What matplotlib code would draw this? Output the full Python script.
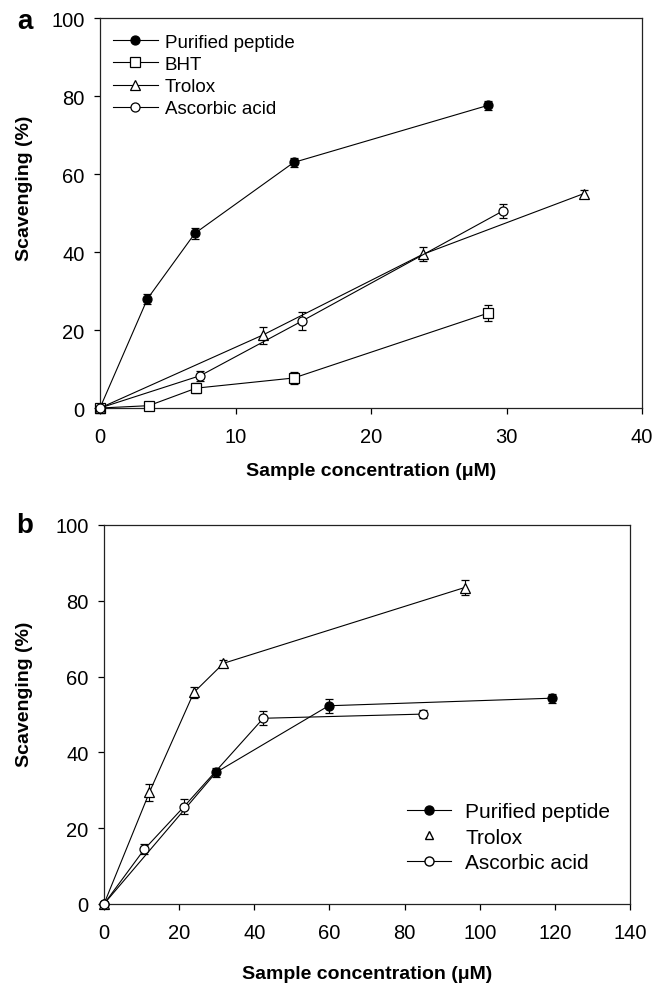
import matplotlib
matplotlib.use("Agg")
import matplotlib.pyplot as plt
from matplotlib.lines import Line2D

plt.rcParams['font.family'] = ['Liberation Sans', 'DejaVu Sans']

# ---- Panel a data ----
a_pep_x = [0, 3.5, 7.0, 14.3, 28.6]
a_pep_y = [0, 28.0, 44.8, 63.0, 77.6]
a_pep_e = [0, 1.2, 1.5, 1.2, 1.2]

a_bht_x = [0, 3.6, 7.1, 14.3, 28.6]
a_bht_y = [0, 0.6, 5.1, 7.7, 24.3]
a_bht_e = [0, 0.3, 1.2, 1.6, 2.0]

a_tro_x = [0, 12.0, 23.8, 35.7]
a_tro_y = [0, 18.7, 39.4, 55.0]
a_tro_e = [0, 2.2, 1.8, 1.0]

a_asc_x = [0, 7.4, 14.9, 29.7]
a_asc_y = [0, 8.3, 22.3, 50.5]
a_asc_e = [0, 1.3, 2.2, 1.8]

a_labels = ["Purified peptide", "BHT", "Trolox", "Ascorbic acid"]

# ---- Panel b data ----
b_pep_x = [0, 29.8, 59.8, 119.3]
b_pep_y = [0, 34.7, 52.3, 54.3]
b_pep_e = [0, 1.2, 1.8, 1.2]

b_tro_x = [0, 12.1, 23.9, 31.8, 96.0]
b_tro_y = [0, 29.5, 55.8, 63.5, 83.5]
b_tro_e = [0, 2.2, 1.5, 0.8, 2.0]

b_asc_x = [0, 10.7, 21.3, 42.4, 84.9]
b_asc_y = [0, 14.4, 25.7, 49.0, 50.1]
b_asc_e = [0, 1.3, 2.0, 1.8, 1.0]

b_labels = ["Purified peptide", "Trolox", "Ascorbic acid"]

x_ticks_a = [0, 10, 20, 30, 40]
x_ticks_b = [0, 20, 40, 60, 80, 100, 120, 140]
y_ticks = [0, 20, 40, 60, 80, 100]

fig = plt.figure(figsize=(6.71, 9.87), dpi=100)
axa = fig.add_axes([0.149, 0.5856, 0.808, 0.395])
axb = fig.add_axes([0.155, 0.0831, 0.784, 0.384])

LW = 0.8
MS = 6.5

def series(ax, x, y, e, marker, fc, label):
    ax.errorbar(x, y, yerr=e, fmt='-', marker=marker, color='black', mfc=fc,
                mec='black', ms=MS, lw=LW, elinewidth=LW, capsize=3.2,
                capthick=LW, clip_on=False, zorder=3, label=label, mew=0.9)

series(axa, a_pep_x, a_pep_y, a_pep_e, 'o', 'black', a_labels[0])
series(axa, a_bht_x, a_bht_y, a_bht_e, 's', 'white', a_labels[1])
series(axa, a_tro_x, a_tro_y, a_tro_e, '^', 'white', a_labels[2])
series(axa, a_asc_x, a_asc_y, a_asc_e, 'o', 'white', a_labels[3])

series(axb, b_pep_x, b_pep_y, b_pep_e, 'o', 'black', b_labels[0])
series(axb, b_tro_x, b_tro_y, b_tro_e, '^', 'white', b_labels[1])
series(axb, b_asc_x, b_asc_y, b_asc_e, 'o', 'white', b_labels[2])

for ax, xt, lp in ((axa, x_ticks_a, 11), (axb, x_ticks_b, 16)):
    ax.set_xlim(xt[0], xt[-1])
    ax.set_ylim(0, 100)
    ax.set_xticks(xt)
    ax.set_yticks(y_ticks)
    ax.tick_params(direction='out', length=4, width=0.9, labelsize=14.5)
    ax.tick_params(axis='x', pad=10)
    ax.tick_params(axis='y', pad=7)
    for s in ax.spines.values():
        s.set_linewidth(0.9)
        s.set_color('#222222')
    ax.set_ylabel("Scavenging (%)", fontsize=14, fontweight='bold')
    ax.set_xlabel("Sample concentration (\u03bcM)", fontsize=14, fontweight='bold',
                  labelpad=lp)

axa.yaxis.set_label_coords(-0.124, 0.567)
axb.yaxis.set_label_coords(-0.135, 0.557)

# legends
h_a = [Line2D([], [], color='black', lw=LW, marker=m, mfc=fc, mec='black', ms=MS, mew=0.9)
       for m, fc in (('o', 'black'), ('s', 'white'), ('^', 'white'), ('o', 'white'))]
axa.legend(h_a, a_labels, loc='upper left', bbox_to_anchor=(0.024, 0.96),
           frameon=False, fontsize=13.5, borderaxespad=0, borderpad=0,
           handlelength=2.4, handletextpad=0.35, labelspacing=0.27)

h_b = [Line2D([], [], color='black', lw=LW, marker='o', mfc='black', mec='black', ms=MS),
       Line2D([], [], color='black', lw=0, marker='^', mfc='white', mec='black', ms=5.5),
       Line2D([], [], color='black', lw=LW, marker='o', mfc='white', mec='black', ms=MS)]
axb.legend(h_b, b_labels, loc='upper left', bbox_to_anchor=(0.576, 0.268),
           frameon=False, fontsize=15, borderaxespad=0, borderpad=0,
           handlelength=2.1, handletextpad=0.7, labelspacing=0.3)

fig.text(25 / 671, 1 - 22 / 987, "a", fontsize=20, fontweight='bold', ha='center', va='center')
fig.text(25 / 671, 1 - 526 / 987, "b", fontsize=20, fontweight='bold', ha='center', va='center')

fig.savefig("out.png", dpi=100)
